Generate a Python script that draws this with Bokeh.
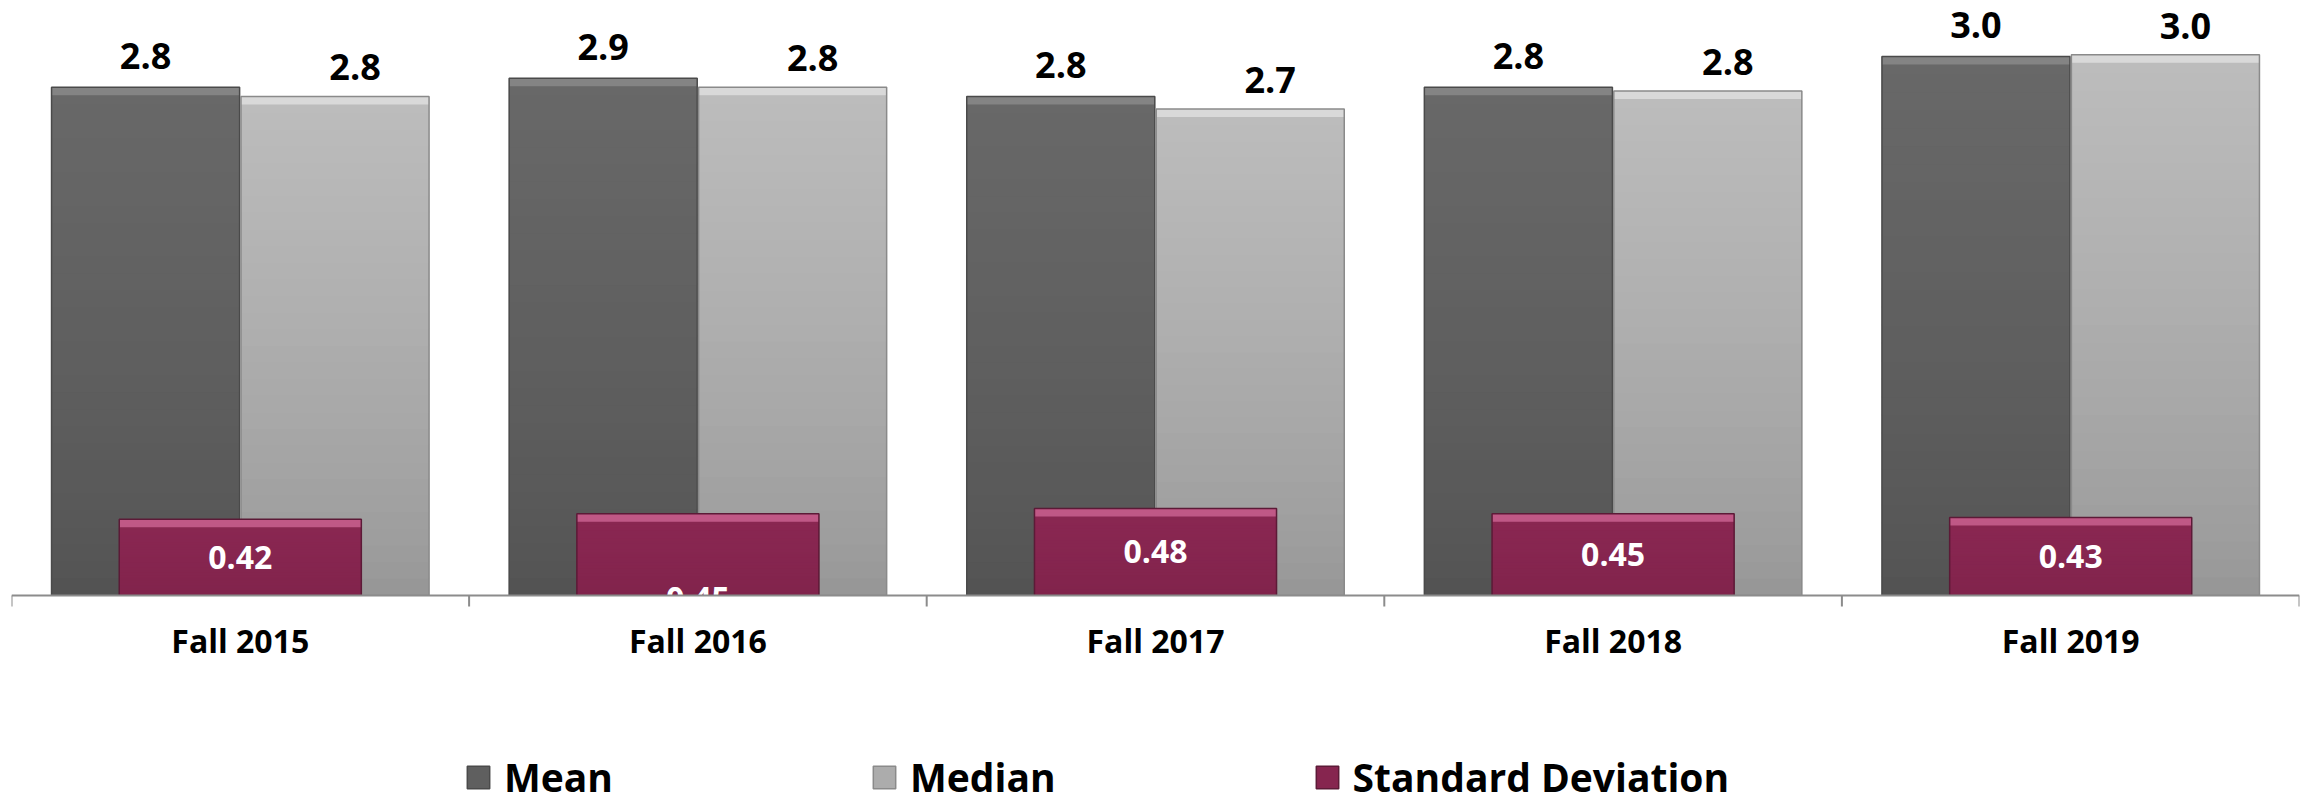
from decimal import Decimal, ROUND_HALF_UP

from bokeh.plotting import figure
from bokeh.layouts import column
from bokeh.models import (FactorRange, Range1d, Legend, LegendItem,
                          ColumnDataSource, Span)
from bokeh.core.properties import value
from bokeh.transform import dodge
from bokeh.embed import file_html
from bokeh.resources import INLINE

# ---------------- data ----------------
categories = ["Fall 2015", "Fall 2016", "Fall 2017", "Fall 2018", "Fall 2019"]
mean_vals = [2.80, 2.85, 2.75, 2.80, 2.97]
median_vals = [2.75, 2.80, 2.68, 2.78, 2.98]
sd_vals = [0.42, 0.45, 0.48, 0.45, 0.43]
sd_label_inside = [True, False, True, True, True]
series_names = ["Mean", "Median", "Standard Deviation"]


def fmt(v, nd):
    q = Decimal(1).scaleb(-nd)
    return str(Decimal(str(v)).quantize(q, rounding=ROUND_HALF_UP))


# ---------------- geometry / style ----------------
W = 2310
H_MAIN, H_LEG = 690, 115
PX_PER_UNIT = 181.5
FRAME_H = 608
BASE_FROM_TOP = 595
y_end = BASE_FROM_TOP / PX_PER_UNIT
y_start = -(FRAME_H - BASE_FROM_TOP) / PX_PER_UNIT

BAR_W = 0.411
OFF = 0.207
SD_W = 0.529
FONT = "Open Sans"

MEAN_COLS = ("#525252", "#686868", "#8a8a8a", "#4a4a4a")
MED_COLS = ("#959595", "#bcbcbc", "#dedede", "#8a8a8a")
SD_COLS = ("#80234b", "#8a2752", "#c9628f", "#5c1a37")

p = figure(x_range=FactorRange(*categories), y_range=Range1d(y_start, y_end),
           width=W, height=H_MAIN, output_backend="svg", toolbar_location=None,
           min_border_left=11, min_border_right=11, min_border_top=0,
           min_border_bottom=H_MAIN - FRAME_H)
p.outline_line_color = None
p.grid.visible = False
p.yaxis.visible = False
p.background_fill_color = "white"
p.border_fill_color = "white"


def hexmix(c1, c2, t):
    a = [int(c1[i:i + 2], 16) for i in (1, 3, 5)]
    b = [int(c2[i:i + 2], 16) for i in (1, 3, 5)]
    return "#%02x%02x%02x" % tuple(int(round(a[i] + (b[i] - a[i]) * t)) for i in range(3))


def draw_bars(vals, offset, width, cols, n=30):
    c_bot, c_top, c_hi, c_line = cols
    xpos = dodge("x", offset, range=p.x_range)
    base = ColumnDataSource(dict(x=categories, top=vals))
    p.vbar(x=xpos, bottom=0, top="top", width=width,
           fill_color=hexmix(c_bot, c_top, 0.5), line_color=None, source=base)
    xs, bots, tops, cs = [], [], [], []
    for cat, v in zip(categories, vals):
        for j in range(n):
            xs.append(cat)
            bots.append(v * j / n)
            tops.append(min(v, v * (j + 1) / n + 0.01))
            t = (j + 0.5) / n
            cs.append(hexmix(c_bot, c_top, t ** 0.7))
    src = ColumnDataSource(dict(x=xs, bottom=bots, top=tops, color=cs))
    p.vbar(x=xpos, bottom="bottom", top="top", width=width,
           fill_color="color", line_color=None, source=src)
    hs = ColumnDataSource(dict(x=categories, top=vals,
                               bottom=[v - 8 / PX_PER_UNIT for v in vals]))
    p.vbar(x=xpos, bottom="bottom", top="top", width=width,
           fill_color=c_hi, fill_alpha=0.85, line_color=None, source=hs)
    p.vbar(x=xpos, bottom=0, top="top", width=width,
           fill_alpha=0, line_color=c_line, line_width=1.5, source=base)


draw_bars(mean_vals, -OFF, BAR_W, MEAN_COLS)
draw_bars(median_vals, OFF, BAR_W, MED_COLS)

# value labels above the mean / median bars
p.text(x=dodge("x", -OFF, range=p.x_range), y="y", text="t",
       source=ColumnDataSource(dict(x=categories, y=mean_vals,
                                    t=[fmt(v, 1) for v in mean_vals])),
       text_font=value(FONT), text_font_style="bold", text_font_size="36px",
       text_color="black", text_align="center", text_baseline="middle",
       y_offset=-31)
p.text(x=dodge("x", OFF, range=p.x_range), y="y", text="t",
       source=ColumnDataSource(dict(x=categories, y=median_vals,
                                    t=[fmt(v, 1) for v in median_vals])),
       text_font=value(FONT), text_font_style="bold", text_font_size="36px",
       text_color="black", text_align="center", text_baseline="middle",
       x_offset=20, y_offset=-29)

draw_bars(sd_vals, 0, SD_W, SD_COLS)

sd_y = [v / 2 if ins else -3 / PX_PER_UNIT for v, ins in zip(sd_vals, sd_label_inside)]
p.text(x="x", y="y", text="t",
       source=ColumnDataSource(dict(x=categories, y=sd_y, t=[fmt(v, 2) for v in sd_vals])),
       text_font=value(FONT), text_font_style="bold", text_font_size="32px",
       text_color="white", text_align="center", text_baseline="middle")

# white cover below the baseline (hides the overflowing label), then axis line + ticks
p.vbar(x="x", bottom=y_start, top=0, width=1.0, fill_color="white", line_color=None,
       source=ColumnDataSource(dict(x=categories)))
p.segment(x0=dodge("x", -0.5, range=p.x_range), x1=dodge("x", -0.5, range=p.x_range),
          y0=0, y1=-11 / PX_PER_UNIT, line_color="#8c8c8c", line_width=2,
          source=ColumnDataSource(dict(x=categories)))
p.segment(x0=dodge("x", 0.5, range=p.x_range), x1=dodge("x", 0.5, range=p.x_range),
          y0=0, y1=-11 / PX_PER_UNIT, line_color="#8c8c8c", line_width=2,
          source=ColumnDataSource(dict(x=categories[-1:])))
p.add_layout(Span(location=0, dimension="width", line_color="#8c8c8c", line_width=2))

# x axis (category labels)
ax = p.xaxis[0]
ax.axis_line_color = None
ax.major_tick_line_color = None
ax.minor_tick_line_color = None
ax.major_tick_out = 0
ax.major_tick_in = 0
ax.major_label_standoff = 10
ax.major_label_text_font = FONT
ax.major_label_text_font_style = "bold"
ax.major_label_text_font_size = "32px"
ax.major_label_text_color = "black"

# ---------------- legend strip ----------------
lg = figure(width=W, height=H_LEG, output_backend="svg", toolbar_location=None,
            x_range=Range1d(0, 1), y_range=Range1d(0, 1),
            x_axis_type=None, y_axis_type=None,
            min_border_left=0, min_border_right=0, min_border_top=0, min_border_bottom=0)
lg.outline_line_color = None
lg.grid.visible = False
lg.background_fill_color = "white"
lg.border_fill_color = "white"

leg_renderers = []
for cols in (MEAN_COLS, MED_COLS, SD_COLS):
    # a zero-size bar in the corner: only its legend swatch is visible
    leg_renderers.append(lg.vbar(x="x", top="top", bottom="top", width=0,
                                 fill_color=hexmix(cols[0], cols[1], 0.6),
                                 line_color=cols[3], line_width=1.5,
                                 source=ColumnDataSource(dict(x=[0.0], top=[0.0]))))

legend = Legend(items=[LegendItem(label=n, renderers=[r])
                       for n, r in zip(series_names, leg_renderers)],
                orientation="horizontal", location=(453, 2),
                glyph_width=28, glyph_height=28, label_standoff=12,
                label_width=0, spacing=257, padding=0, margin=0,
                label_text_font=FONT, label_text_font_style="bold",
                label_text_font_size="39px", label_text_color="black",
                border_line_color=None, background_fill_alpha=0)
lg.add_layout(legend)

layout = column(p, lg, spacing=0)
open("out.html", "w").write(file_html(layout, INLINE))
